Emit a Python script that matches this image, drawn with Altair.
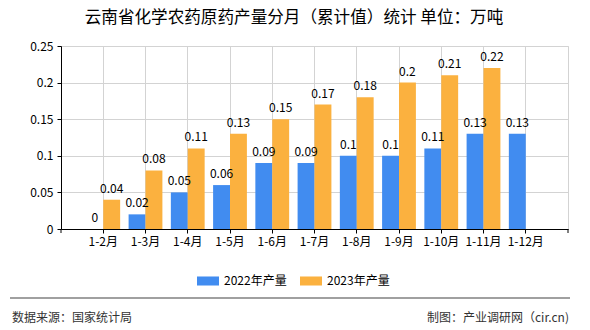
import altair as alt
import pandas as pd

months = ["1-2月", "1-3月", "1-4月", "1-5月", "1-6月", "1-7月", "1-8月", "1-9月", "1-10月", "1-11月", "1-12月"]
prod_2022 = [0, 0.02, 0.05, 0.06, 0.09, 0.09, 0.10, 0.10, 0.11, 0.13, 0.13]
prod_2023 = [0.04, 0.08, 0.11, 0.13, 0.15, 0.17, 0.18, 0.20, 0.21, 0.22, None]
series_names = ["2022年产量", "2023年产量"]
series_colors = ["#418CF0", "#FBB13F"]
y_ticks = [0, 0.05, 0.1, 0.15, 0.2, 0.25]

title_text = "云南省化学农药原药产量分月（累计值）统计 单位：万吨"
source_text = "数据来源：国家统计局"
credit_text = "制图：产业调研网（cir.cn)"

FONT = "Noto Sans CJK SC"

rows = []
for i, m in enumerate(months):
    for s, vals in zip(series_names, [prod_2022, prod_2023]):
        v = vals[i]
        if v is not None:
            rows.append({"month": m, "series": s, "value": v})
df = pd.DataFrame(rows)

x_enc = alt.X(
    "month:N",
    sort=months,
    scale=alt.Scale(domain=months, paddingInner=0.2, paddingOuter=0.6),
    axis=alt.Axis(
        title=None, grid=True, bandPosition=0.5, labelAngle=0, labelFontSize=12,
        labelFont=FONT, labelColor="#000", labelPadding=3, tickSize=4,
        domainColor="#000", tickColor="#000", gridColor="#d3d3d3",
    ),
)
xoff_enc = alt.XOffset(
    "series:N", sort=series_names,
    scale=alt.Scale(domain=series_names, paddingInner=0, paddingOuter=0),
)
y_enc = alt.Y(
    "value:Q",
    scale=alt.Scale(domain=[0, 0.25], nice=False),
    axis=alt.Axis(
        title=None, values=y_ticks, format="~g", labelFontSize=12, labelFont=FONT,
        labelColor="#000", labelPadding=4, tickSize=4, domainColor="#000",
        tickColor="#000", gridColor="#d3d3d3",
    ),
)

base = alt.Chart(df)

bars = base.mark_bar().encode(
    x=x_enc,
    xOffset=xoff_enc,
    y=y_enc,
    color=alt.Color(
        "series:N",
        sort=series_names,
        scale=alt.Scale(domain=series_names, range=series_colors),
        legend=alt.Legend(
            orient="none", legendX=136, legendY=224, direction="horizontal",
            title=None, symbolType="M-1,-0.41L1,-0.41L1,0.41L-1,0.41Z",
            symbolSize=484, symbolStrokeWidth=0, symbolOpacity=1,
            labelFontSize=12, labelFont=FONT, labelColor="#000",
            labelOffset=5, columnPadding=13,
        ),
    ),
)

labels = base.mark_text(baseline="bottom", dy=-4, fontSize=12, font=FONT, color="#000").encode(
    x=x_enc,
    xOffset=xoff_enc,
    y=y_enc,
    text=alt.Text("value:Q", format=".2~f"),
)

title = alt.Chart(pd.DataFrame({"t": [title_text]})).mark_text(
    fontSize=16.6, font=FONT, color="#000", align="center", baseline="middle"
).encode(text="t:N", x=alt.value(233), y=alt.value(-28))

source = alt.Chart(pd.DataFrame({"t": [source_text]})).mark_text(
    fontSize=12, font=FONT, color="#333", align="left", baseline="middle"
).encode(text="t:N", x=alt.value(-49), y=alt.value(272))

credit = alt.Chart(pd.DataFrame({"t": [credit_text]})).mark_text(
    fontSize=12, font=FONT, color="#333", align="right", baseline="middle"
).encode(text="t:N", x=alt.value(508), y=alt.value(272))

sep = alt.Chart(pd.DataFrame({"t": [0]})).mark_rule(color="#808080", strokeWidth=1.5).encode(
    x=alt.value(-51), x2=alt.value(509), y=alt.value(252)
)

edge_ticks = alt.Chart(pd.DataFrame({"t": [0]})).mark_rule(color="#000", strokeWidth=1).encode(
    x=alt.value(0), y=alt.value(183), y2=alt.value(187)
)
edge_ticks_r = alt.Chart(pd.DataFrame({"t": [0]})).mark_rule(color="#000", strokeWidth=1).encode(
    x=alt.value(507), y=alt.value(183), y2=alt.value(187)
)

chart = alt.layer(bars, labels, title, source, credit, sep, edge_ticks, edge_ticks_r).properties(
    width=507,
    height=183,
    autosize=alt.AutoSizeParams(type="none"),
    padding={"left": 61, "top": 46, "right": 22, "bottom": 101},
    background="white",
).configure_view(stroke="#d3d3d3", strokeWidth=1)

chart.save("out.html", embed_options={"renderer": "svg", "actions": False})
